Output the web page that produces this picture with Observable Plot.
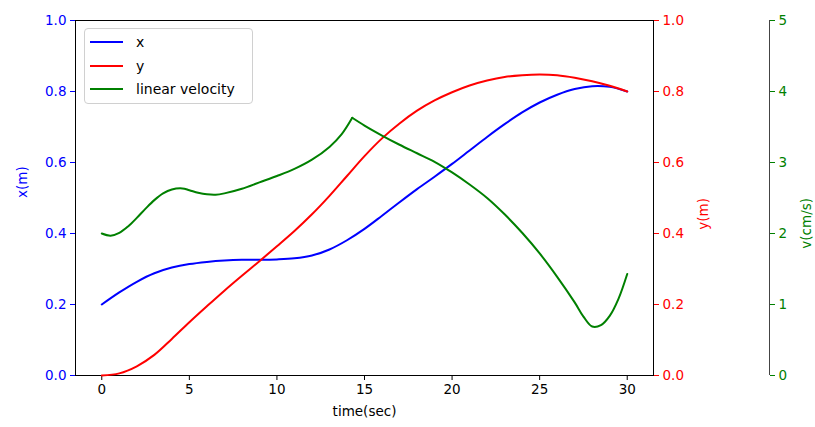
<!DOCTYPE html>
<html>
<head>
<meta charset="utf-8">
<script src="https://cdn.jsdelivr.net/npm/d3@7"></script>
<script src="https://cdn.jsdelivr.net/npm/@observablehq/plot@0.6"></script>
<style>
  body { margin: 0; background: #fff; }
  #chart { position: relative; width: 815px; height: 427px; font-family: "DejaVu Sans", sans-serif; }
  #chart > svg { position: absolute; left: 0; top: 0; }
  .legend {
    position: absolute; left: 84px; top: 28px; width: 169px; height: 76px;
    border: 1px solid #d0d0d0; border-radius: 4px; background: rgba(255,255,255,0.8);
    font-size: 14px; color: #000; box-sizing: border-box;
  }
  .legend .row { position: absolute; left: 5px; height: 20px; display: flex; align-items: center; }
  .legend .swatch { width: 33px; height: 2px; margin-right: 13px; }
</style>
</head>
<body>
<div id="chart"></div>
<script>
// Sample times (s) for the position traces
const time = [0, 1, 2, 3, 4, 5, 6, 7, 8, 9, 10, 11, 12, 13, 14, 15, 16, 17, 18, 19, 20, 21, 22, 23, 24, 25, 26, 27, 28, 29, 30];
// x position (m)
const xPos = [0.200, 0.234, 0.264, 0.288, 0.304, 0.314, 0.320, 0.324, 0.326, 0.326, 0.327, 0.330, 0.338, 0.355, 0.381, 0.413, 0.450, 0.488, 0.525, 0.560, 0.596, 0.634, 0.672, 0.708, 0.741, 0.769, 0.791, 0.807, 0.815, 0.813, 0.800];
// y position (m)
const yPos = [0.000, 0.006, 0.026, 0.058, 0.103, 0.150, 0.195, 0.239, 0.281, 0.322, 0.364, 0.407, 0.454, 0.506, 0.562, 0.618, 0.668, 0.710, 0.746, 0.775, 0.798, 0.817, 0.831, 0.841, 0.846, 0.848, 0.846, 0.839, 0.829, 0.816, 0.800];
// Linear velocity (cm/s); the speed profile has a corner at the peak time
const velTime = [0, 0.5, 1, 1.5, 2, 2.5, 3, 3.5, 4, 4.6, 5, 5.5, 6, 6.5, 7, 8, 9, 10, 11, 12, 13, 13.7, 14.3, 15, 16, 17, 18, 19, 20, 21, 22, 23, 24, 25, 26, 27, 27.5, 28, 28.5, 29, 29.5, 30];
const velocity = [2.00, 1.97, 2.01, 2.10, 2.22, 2.35, 2.47, 2.565, 2.62, 2.635, 2.61, 2.575, 2.552, 2.546, 2.565, 2.63, 2.72, 2.81, 2.91, 3.04, 3.22, 3.40, 3.63, 3.52, 3.38, 3.25, 3.13, 3.01, 2.86, 2.69, 2.50, 2.27, 2.01, 1.72, 1.39, 1.03, 0.83, 0.69, 0.71, 0.84, 1.08, 1.43];
const peakTime = 14.3;

const timeTicks = [0, 5, 10, 15, 20, 25, 30];
const posTicks = [0, 0.2, 0.4, 0.6, 0.8, 1.0];
const velTicks = [0, 1, 2, 3, 4, 5];

const posRows = time.map((t, i) => ({t, x: xPos[i], y: yPos[i]}));
// Split the velocity trace at the peak so the corner stays sharp
const velRows = [];
velTime.forEach((t, i) => {
  if (t <= peakTime) velRows.push({t, v: velocity[i], seg: "rise"});
  if (t >= peakTime) velRows.push({t, v: velocity[i], seg: "fall"});
});

const BLUE = "#0000ff", RED = "#ff0000", GREEN = "#008000";
const W = 815, H = 427;
const base = {
  width: W, height: H,
  marginLeft: 75, marginRight: 162, marginTop: 20, marginBottom: 52,
  style: {fontFamily: "DejaVu Sans, sans-serif", fontSize: "13.5px", background: "transparent", overflow: "visible"}
};
const CURVE = "catmull-rom";

// Primary axes: time axis, x(m) on the left
const p1 = Plot.plot({
  ...base,
  x: {domain: [-1.5, 31.5]},
  y: {domain: [0, 1]},
  marks: [
    Plot.axisX(timeTicks, {tickSize: 5, tickPadding: 4, label: null, color: "black"}),
    Plot.axisY(posTicks, {anchor: "left", tickSize: 5, tickPadding: 4, tickFormat: d3.format(".1f"), label: null, color: BLUE}),
    Plot.line(posRows, {x: "t", y: "x", stroke: BLUE, strokeWidth: 2, curve: CURVE}),
    Plot.frame({stroke: "black", strokeWidth: 1}),
    Plot.text(["time(sec)"], {frameAnchor: "bottom", dy: 40, fill: "black"}),
    Plot.text(["x(m)"], {frameAnchor: "left", dx: -53, rotate: -90, fill: BLUE})
  ]
});

// Twin axis: y(m) on the right
const p2 = Plot.plot({
  ...base,
  x: {domain: [-1.5, 31.5], axis: null},
  y: {domain: [0, 1]},
  marks: [
    Plot.axisY(posTicks, {anchor: "right", tickSize: 5, tickPadding: 4, tickFormat: d3.format(".1f"), label: null, color: RED}),
    Plot.line(posRows, {x: "t", y: "y", stroke: RED, strokeWidth: 2, curve: CURVE}),
    Plot.text(["y(m)"], {frameAnchor: "right", dx: 50, rotate: -90, fill: RED})
  ]
});

// Offset twin axis: v(cm/s)
const p3 = Plot.plot({
  ...base,
  x: {domain: [-1.5, 31.5], axis: null},
  y: {domain: [0, 5]},
  marks: [
    Plot.ruleX([31.5], {dx: 116, stroke: "#444", strokeWidth: 1}),
    Plot.axisY(velTicks, {anchor: "right", dx: 116, tickSize: 5, tickPadding: 4, tickFormat: d3.format("d"), label: null, color: GREEN}),
    Plot.line(velRows, {x: "t", y: "v", z: "seg", stroke: GREEN, strokeWidth: 2, curve: CURVE}),
    Plot.text(["v(cm/s)"], {frameAnchor: "right", dx: 153, rotate: -90, fill: GREEN})
  ]
});

const chart = document.getElementById("chart");
chart.append(p1, p2, p3);

// Legend
const legendItems = [["x", BLUE], ["y", RED], ["linear velocity", GREEN]];
const legend = document.createElement("div");
legend.className = "legend";
legendItems.forEach(([name, color], i) => {
  const row = document.createElement("div");
  row.className = "row";
  row.style.top = (3 + i * 23.7) + "px";
  const sw = document.createElement("span");
  sw.className = "swatch";
  sw.style.background = color;
  const lab = document.createElement("span");
  lab.textContent = name;
  row.append(sw, lab);
  legend.append(row);
});
chart.append(legend);
</script>
</body>
</html>
